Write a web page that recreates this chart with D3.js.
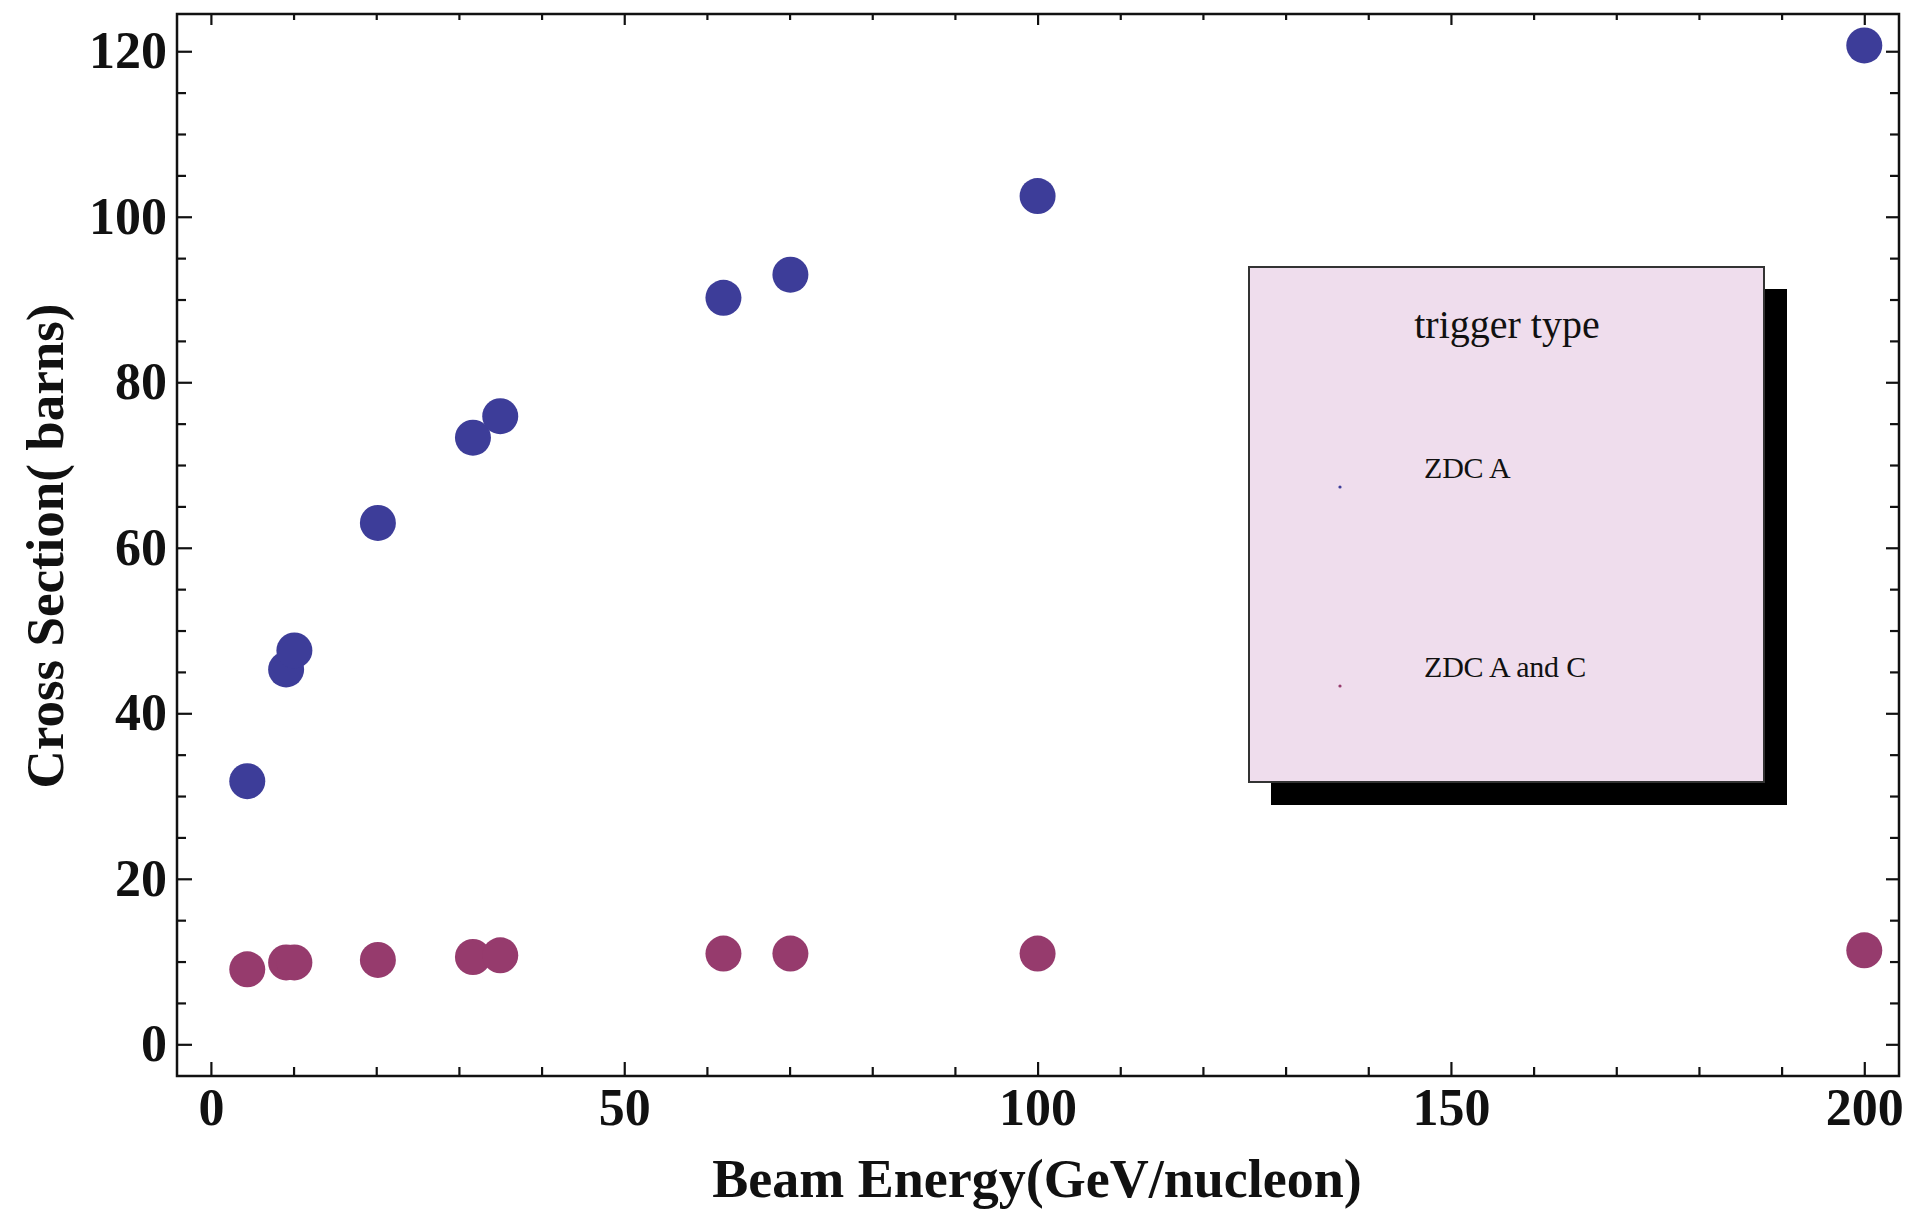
<!DOCTYPE html>
<html>
<head>
<meta charset="utf-8">
<script src="https://cdn.jsdelivr.net/npm/d3@7"></script>
<style>
  html, body { margin: 0; padding: 0; background: #fff; }
  svg { display: block; }
</style>
</head>
<body>
<svg id="chart" width="1910" height="1212"></svg>
<script>
// ---- data ----
const energies = [4.4, 9.1, 10.1, 20.2, 31.7, 35.0, 62.0, 70.1, 100.0, 200.0];
const zdcA     = [31.8, 45.3, 47.6, 63.0, 73.3, 75.9, 90.2, 93.0, 102.5, 120.7];
const zdcAandC = [9.06, 9.9, 9.9, 10.2, 10.55, 10.75, 10.96, 10.96, 10.96, 11.36];
const seriesNames = ["ZDC A", "ZDC A and C"];
const seriesColors = ["#3d3d99", "#963b6d"];
const xMajorTicks = [0, 50, 100, 150, 200];
const yMajorTicks = [0, 20, 40, 60, 80, 100, 120];
const legendTitle = "trigger type";
const xTitle = "Beam Energy(GeV/nucleon)";
const yTitle = "Cross Section( barns)";

// ---- layout ----
const svg = d3.select("#chart");
const L = 177, R = 1899, T = 14, B = 1076;
const x = d3.scaleLinear().domain([-4.1, 204.2]).range([L, R]);
const y = d3.scaleLinear().domain([-3.83, 124.5]).range([B, T]);
const serif = "'Liberation Serif', 'Times New Roman', serif";

const xMinor = d3.range(0, 201, 10).filter(v => !xMajorTicks.includes(v));
const yMinor = d3.range(0, 121, 5).filter(v => !yMajorTicks.includes(v));

function styleAxis(g) {
  g.select(".domain").remove();
  g.selectAll(".tick line").attr("stroke", "#111").attr("stroke-width", 2.2);
  g.selectAll(".tick text")
    .attr("font-family", serif).attr("font-weight", "bold")
    .attr("font-size", 52).attr("fill", "#111");
}

// bottom axis
svg.append("g").attr("transform", `translate(0,${B})`)
  .call(d3.axisBottom(x).tickValues(xMajorTicks).tickSize(-14).tickPadding(12).tickFormat(d3.format("d")))
  .call(styleAxis);
svg.append("g").attr("transform", `translate(0,${B})`)
  .call(d3.axisBottom(x).tickValues(xMinor).tickSize(-9).tickFormat(""))
  .call(styleAxis);
// top axis
svg.append("g").attr("transform", `translate(0,${T})`)
  .call(d3.axisTop(x).tickValues(xMajorTicks).tickSize(-11).tickFormat(""))
  .call(styleAxis);
svg.append("g").attr("transform", `translate(0,${T})`)
  .call(d3.axisTop(x).tickValues(xMinor).tickSize(-6).tickFormat(""))
  .call(styleAxis);
// left axis
svg.append("g").attr("transform", `translate(${L},0)`)
  .call(d3.axisLeft(y).tickValues(yMajorTicks).tickSize(-15).tickPadding(10).tickFormat(d3.format("d")))
  .call(styleAxis);
svg.append("g").attr("transform", `translate(${L},0)`)
  .call(d3.axisLeft(y).tickValues(yMinor).tickSize(-9).tickFormat(""))
  .call(styleAxis);
// right axis
svg.append("g").attr("transform", `translate(${R},0)`)
  .call(d3.axisRight(y).tickValues(yMajorTicks).tickSize(-13).tickFormat(""))
  .call(styleAxis);
svg.append("g").attr("transform", `translate(${R},0)`)
  .call(d3.axisRight(y).tickValues(yMinor).tickSize(-9).tickFormat(""))
  .call(styleAxis);

// frame
svg.append("rect").attr("x", L).attr("y", T).attr("width", R - L).attr("height", B - T)
  .attr("fill", "none").attr("stroke", "#111").attr("stroke-width", 2.5);

// axis titles
svg.append("text").attr("x", 1037).attr("y", 1197).attr("text-anchor", "middle")
  .attr("font-family", serif).attr("font-weight", "bold").attr("font-size", 54).attr("fill", "#111")
  .text(xTitle);
svg.append("text").attr("transform", "translate(63,546) rotate(-90)").attr("text-anchor", "middle")
  .attr("font-family", serif).attr("font-weight", "bold").attr("font-size", 53).attr("fill", "#111")
  .text(yTitle);

// points
const series = [zdcA, zdcAandC];
series.forEach((vals, si) => {
  svg.append("g").selectAll("circle")
    .data(vals.map((v, i) => ({ e: energies[i], v })))
    .join("circle")
    .attr("cx", d => x(d.e)).attr("cy", d => y(d.v)).attr("r", 18)
    .attr("fill", seriesColors[si]);
});

// legend
const lg = svg.append("g");
lg.append("rect").attr("x", 1271).attr("y", 289).attr("width", 516).attr("height", 516).attr("fill", "#000");
lg.append("rect").attr("x", 1249).attr("y", 267).attr("width", 515).attr("height", 515)
  .attr("fill", "#efdded").attr("stroke", "#333").attr("stroke-width", 2);
lg.append("text").attr("x", 1507).attr("y", 338).attr("text-anchor", "middle")
  .attr("font-family", serif).attr("font-size", 40).attr("fill", "#111").text(legendTitle);
const legendY = [478, 677];
seriesNames.forEach((name, i) => {
  lg.append("circle").attr("cx", 1340).attr("cy", legendY[i] + 9).attr("r", 1.6).attr("fill", seriesColors[i]);
  lg.append("text").attr("x", 1424).attr("y", legendY[i])
    .attr("font-family", serif).attr("font-size", 30).attr("letter-spacing", -0.2).attr("fill", "#111").text(name);
});
</script>
</body>
</html>
